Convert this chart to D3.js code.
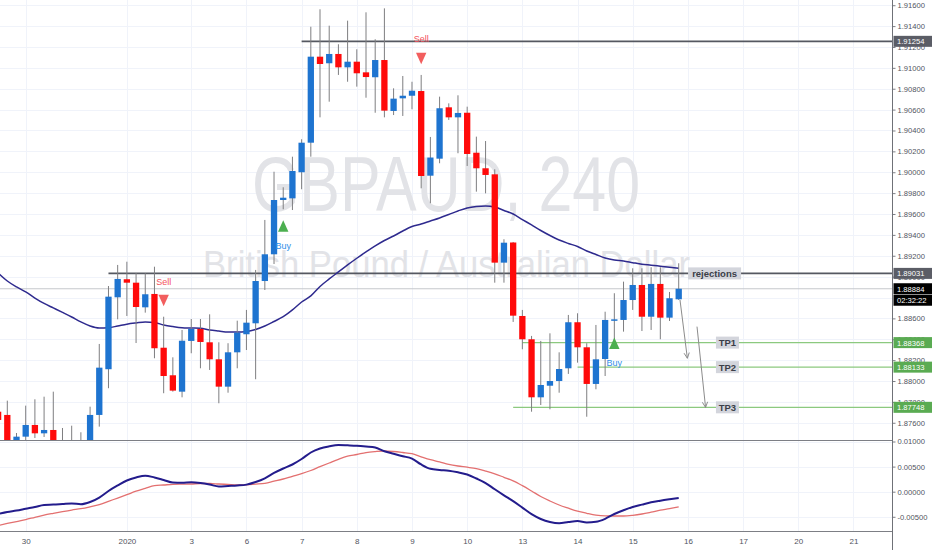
<!DOCTYPE html>
<html><head><meta charset="utf-8">
<script src="https://cdn.jsdelivr.net/npm/d3@7"></script>
<style>body{margin:0;background:#fff}svg{display:block;font-family:"Liberation Sans",Arial,sans-serif}</style>
</head><body>
<svg id="c" width="932" height="550"></svg>
<script>
// ---------- DATA ----------
const firstIndex = -1; // index of first (partially visible) candle
const opens  = [1.87706,1.87675,1.87387,1.87467,1.87579,1.87499,1.87531,1.87380,1.87300,1.87340,1.87410,1.87675,1.88113,1.88802,1.88975,1.88942,1.88706,1.88834,1.88319,1.88055,1.87898,1.88384,1.88499,1.88371,1.88208,1.87946,1.88275,1.88448,1.88553,1.88958,1.89214,1.89734,1.89750,1.90000,1.90283,1.91107,1.91044,1.91133,1.91005,1.91059,1.90957,1.90910,1.91075,1.90587,1.90708,1.90733,1.90778,1.89967,1.90130,1.90622,1.90526,1.90570,1.90187,1.90038,1.89980,1.89134,1.89327,1.88623,1.88400,1.87844,1.87955,1.88000,1.88122,1.88563,1.88323,1.87972,1.88211,1.88578,1.88585,1.88776,1.88920,1.88616,1.88930,1.88607,1.88783];
const highs  = [1.87770,1.87812,1.87502,1.87764,1.87825,1.87850,1.87898,1.87550,1.87572,1.87509,1.87754,1.88355,1.88910,1.89112,1.89143,1.89035,1.89032,1.89095,1.88616,1.88227,1.88489,1.88594,1.88594,1.88639,1.88371,1.88362,1.88578,1.88681,1.89064,1.89543,1.90005,1.89856,1.90149,1.90316,1.91394,1.91561,1.91404,1.91226,1.91452,1.91178,1.91532,1.91274,1.91570,1.90804,1.90922,1.90867,1.90932,1.90338,1.90724,1.90660,1.90737,1.90628,1.90341,1.90299,1.90028,1.89358,1.89332,1.88681,1.88432,1.88384,1.88457,1.88275,1.88633,1.88649,1.88362,1.88537,1.88664,1.88841,1.88952,1.89080,1.89080,1.89090,1.89090,1.88853,1.89128];
const lows   = [1.87579,1.87292,1.87340,1.87416,1.87454,1.87464,1.87340,1.87290,1.87260,1.87300,1.87380,1.87563,1.87931,1.88591,1.88623,1.88364,1.88655,1.88218,1.87883,1.87898,1.87844,1.88266,1.88122,1.88106,1.87787,1.87888,1.88122,1.88297,1.88017,1.88872,1.89121,1.89645,1.89638,1.89837,1.90149,1.90526,1.90676,1.90932,1.90867,1.90820,1.90714,1.90570,1.90526,1.90548,1.90539,1.90603,1.89846,1.89703,1.90086,1.90501,1.90182,1.90060,1.89814,1.89798,1.88942,1.88942,1.88566,1.88304,1.87706,1.87770,1.87729,1.87888,1.88068,1.88176,1.87658,1.87921,1.88048,1.88329,1.88473,1.88681,1.88479,1.88489,1.88400,1.88575,1.88776];
const closes = [1.87627,1.87359,1.87467,1.87579,1.87499,1.87531,1.87387,1.87330,1.87380,1.87400,1.87675,1.88128,1.88808,1.88978,1.88942,1.88709,1.88831,1.88314,1.88048,1.87908,1.88386,1.88499,1.88374,1.88208,1.87946,1.88275,1.88463,1.88559,1.88958,1.89214,1.89734,1.89756,1.90012,1.90283,1.91107,1.91037,1.91133,1.91005,1.91059,1.90948,1.90912,1.91075,1.90590,1.90705,1.90733,1.90781,1.89964,1.90141,1.90613,1.90526,1.90568,1.90175,1.90038,1.89974,1.89134,1.89325,1.88626,1.88400,1.87844,1.87962,1.88000,1.88115,1.88563,1.88323,1.87972,1.88208,1.88585,1.88591,1.88776,1.88920,1.88616,1.88930,1.88607,1.88793,1.88884];
const movingAvg = [1.89035,1.88958,1.88901,1.88853,1.88795,1.88743,1.88700,1.88657,1.88613,1.88566,1.88527,1.88508,1.88511,1.88527,1.88544,1.88556,1.88566,1.88561,1.88537,1.88522,1.88511,1.88508,1.88505,1.88489,1.88479,1.88470,1.88470,1.88475,1.88494,1.88527,1.88570,1.88616,1.88681,1.88757,1.88815,1.88906,1.88978,1.89045,1.89112,1.89176,1.89236,1.89294,1.89346,1.89389,1.89437,1.89480,1.89504,1.89533,1.89562,1.89595,1.89629,1.89658,1.89672,1.89677,1.89667,1.89634,1.89600,1.89547,1.89495,1.89442,1.89394,1.89351,1.89318,1.89289,1.89246,1.89212,1.89179,1.89160,1.89150,1.89134,1.89119,1.89110,1.89100,1.89090,1.89080];
const macdLine = [-0.00444,-0.00404,-0.00375,-0.00339,-0.00304,-0.00265,-0.00257,-0.00245,-0.00233,-0.00249,-0.00205,-0.00116,0.00014,0.00124,0.00223,0.00283,0.00319,0.00283,0.00233,0.00181,0.00177,0.00187,0.00173,0.00143,0.00104,0.00114,0.00124,0.00141,0.00193,0.00267,0.00373,0.00462,0.00542,0.00651,0.00781,0.00861,0.00904,0.00930,0.00924,0.00916,0.00900,0.00880,0.00805,0.00755,0.00707,0.00659,0.00542,0.00456,0.00432,0.00418,0.00386,0.00343,0.00263,0.00173,0.00048,-0.00072,-0.00189,-0.00317,-0.00448,-0.00544,-0.00604,-0.00629,-0.00604,-0.00584,-0.00612,-0.00600,-0.00540,-0.00444,-0.00369,-0.00305,-0.00257,-0.00211,-0.00179,-0.00151,-0.00125];
const signalLine = [-0.00673,-0.00633,-0.00594,-0.00556,-0.00510,-0.00466,-0.00430,-0.00396,-0.00365,-0.00339,-0.00301,-0.00257,-0.00191,-0.00127,-0.00060,0.00010,0.00066,0.00120,0.00133,0.00147,0.00151,0.00153,0.00163,0.00163,0.00153,0.00145,0.00137,0.00137,0.00151,0.00167,0.00209,0.00253,0.00307,0.00359,0.00422,0.00498,0.00572,0.00645,0.00707,0.00741,0.00779,0.00799,0.00811,0.00801,0.00781,0.00757,0.00695,0.00637,0.00592,0.00544,0.00512,0.00488,0.00460,0.00412,0.00357,0.00287,0.00215,0.00120,0.00014,-0.00096,-0.00185,-0.00265,-0.00329,-0.00388,-0.00430,-0.00466,-0.00482,-0.00484,-0.00484,-0.00470,-0.00444,-0.00408,-0.00369,-0.00337,-0.00301];

const priceTicks = [1.876,1.878,1.880,1.882,1.884,1.886,1.890,1.892,1.894,1.896,1.898,1.900,1.902,1.904,1.906,1.908,1.910,1.912,1.914,1.916];
const macdTicks = [-0.005,0,0.005,0.01];
const dayIndex  = [2,13,20,26,32,38,44,50,56,62,68,74,80,86,92];
const dayLabels = ["30","2020","3","6","7","8","9","10","13","14","15","16","17","20","21"];

const levelPrices = [1.91254, 1.89031];
const levelStart  = [32.0, 11.0];
const tpPrices = [1.88368, 1.88133, 1.87748];
const tpNames  = ["TP1","TP2","TP3"];
const tpStart  = [56.0, 62.0, 55.0];
const lastPrice = 1.88884;
const countdown = "02:32:22";
const signalIdx   = [17, 45, 30, 66];
const signalPrice = [1.88771, 1.91090, 1.89485, 1.88362];
const signalType  = ["Sell","Sell","Buy","Buy"];
const arrowFrom = [[73.14,1.88776],[74.99,1.88521]];
const arrowTo   = [[73.94,1.88218],[75.92,1.87747]];

// ---------- LAYOUT ----------
const PW = 892, MAIN_B = 440, LOW_B = 531;
const svg = d3.select('#c');
const x  = d3.scaleLinear().domain([-0.794, 96.19]).range([0, PW]);
const y  = d3.scaleLinear().domain([1.87435, 1.91650]).range([MAIN_B, 0]);
const ym = d3.scaleLinear().domain([-0.00783, 0.01030]).range([LOW_B, MAIN_B]);

const candles = opens.map((o,k)=>({i:firstIndex+k,o,h:highs[k],l:lows[k],c:closes[k],ma:movingAvg[k],m:macdLine[k],s:signalLine[k]}));

const defs = svg.append('defs');
defs.append('clipPath').attr('id','mainClip').append('rect').attr('x',0).attr('y',0).attr('width',PW).attr('height',MAIN_B);
defs.append('clipPath').attr('id','lowClip').append('rect').attr('x',0).attr('y',MAIN_B).attr('width',PW).attr('height',LOW_B-MAIN_B);

// grid
const grid = svg.append('g').attr('stroke','#f0f3fa').attr('stroke-width',1);
grid.selectAll('.hg').data(priceTicks.concat([1.888])).join('line')
  .attr('x1',0).attr('x2',PW).attr('y1',d=>Math.round(y(d))+0.5).attr('y2',d=>Math.round(y(d))+0.5);
grid.selectAll('.hm').data(macdTicks).join('line')
  .attr('x1',0).attr('x2',PW).attr('y1',d=>Math.round(ym(d))+0.5).attr('y2',d=>Math.round(ym(d))+0.5);
grid.selectAll('.vg').data(dayIndex).join('line')
  .attr('y1',0).attr('y2',LOW_B).attr('x1',d=>Math.round(x(d))+0.5).attr('x2',d=>Math.round(x(d))+0.5);

// main pane
const main = svg.append('g').attr('clip-path','url(#mainClip)');
main.append('text').attr('x',252).attr('y',211).attr('font-size',78).attr('fill','#e2e3e7')
  .attr('textLength',388).attr('lengthAdjust','spacingAndGlyphs').text('GBPAUD, 240');
main.append('text').attr('x',203).attr('y',277).attr('font-size',37).attr('fill','#e2e3e7')
  .attr('textLength',487).attr('lengthAdjust','spacingAndGlyphs').text('British Pound / Australian Dollar');

// current price line
main.append('line').attr('x1',0).attr('x2',PW).attr('y1',y(lastPrice)).attr('y2',y(lastPrice))
  .attr('stroke','#c6c8cc').attr('stroke-width',1.2);

// levels
main.selectAll('.lvl').data(levelPrices).join('line')
  .attr('x1',(d,k)=>x(levelStart[k])).attr('x2',PW).attr('y1',d=>y(d)).attr('y2',d=>y(d))
  .attr('stroke','#555861').attr('stroke-width',1.6);
main.selectAll('.tp').data(tpPrices).join('line')
  .attr('x1',(d,k)=>x(tpStart[k])).attr('x2',PW).attr('y1',d=>y(d)).attr('y2',d=>y(d))
  .attr('stroke','#8cc97f').attr('stroke-width',1.2);

// MA
main.append('path').datum(candles).attr('fill','none').attr('stroke','#2e2a8e').attr('stroke-width',1.5)
  .attr('d',d3.line().x(d=>x(d.i)).y(d=>y(d.ma)).curve(d3.curveMonotoneX));

// candles
const bw = 6.3;
const cg = main.append('g');
cg.selectAll('.w').data(candles).join('line')
  .attr('x1',d=>x(d.i)).attr('x2',d=>x(d.i)).attr('y1',d=>y(d.h)).attr('y2',d=>y(d.l))
  .attr('stroke','#7e7e80').attr('stroke-width',1);
cg.selectAll('.b').data(candles).join('rect')
  .attr('x',d=>x(d.i)-bw/2).attr('width',bw)
  .attr('y',d=>y(Math.max(d.o,d.c))).attr('height',d=>Math.max(1.5,Math.abs(y(d.o)-y(d.c))))
  .attr('fill',d=>d.c>=d.o?'#1e74d0':'#ff0a0a');

// signals
signalIdx.forEach((si,k)=>{
  const cx = x(si), cy = y(signalPrice[k]);
  const sell = signalType[k]==='Sell';
  const hw=5.2, hh=5.8;
  const pts = sell ? [[cx-hw,cy-hh],[cx+hw,cy-hh],[cx,cy+hh]] : [[cx-hw,cy+hh],[cx+hw,cy+hh],[cx,cy-hh]];
  main.append('path').attr('d','M'+pts.map(p=>p.join(',')).join('L')+'Z').attr('fill',sell?'#f25e5e':'#4caf50');
  main.append('text').attr('x',cx).attr('y',sell?cy-16:cy+23).attr('text-anchor','middle')
    .attr('font-size',9).attr('fill',sell?'#f4525c':'#2f8ee8').text(signalType[k]);
});

// arrows
arrowFrom.forEach((f,k)=>{
  const x1=x(f[0]),y1=y(f[1]),x2=x(arrowTo[k][0]),y2=y(arrowTo[k][1]);
  const a=Math.atan2(y2-y1,x2-x1), L=6, sp=0.45;
  const g=main.append('g').attr('stroke','#8c8c8c').attr('stroke-width',1).attr('fill','none');
  g.append('line').attr('x1',x1).attr('y1',y1).attr('x2',x2).attr('y2',y2);
  g.append('path').attr('d',`M${x2-L*Math.cos(a-sp)},${y2-L*Math.sin(a-sp)}L${x2},${y2}L${x2-L*Math.cos(a+sp)},${y2-L*Math.sin(a+sp)}`);
});

// text labels on lines
function tagOnChart(cxIdx, price, txt, w){
  const cx=x(cxIdx), cy=y(price);
  main.append('rect').attr('x',cx-w/2).attr('y',cy-6).attr('width',w).attr('height',12).attr('fill','#d3d5dc');
  main.append('text').attr('x',cx).attr('y',cy+3.4).attr('text-anchor','middle').attr('font-size',9.5)
    .attr('font-weight','bold').attr('fill','#3b3e48').text(txt);
}
tagOnChart(76.9, levelPrices[1], 'rejections', 53);
tpPrices.forEach((p,k)=>tagOnChart(78.3, p, tpNames[k], 23));

// lower pane
const low = svg.append('g').attr('clip-path','url(#lowClip)');
low.append('path').datum(candles).attr('fill','none').attr('stroke','#e37070').attr('stroke-width',1.3)
  .attr('d',d3.line().x(d=>x(d.i)).y(d=>ym(d.s)).curve(d3.curveMonotoneX));
low.append('path').datum(candles).attr('fill','none').attr('stroke','#231c8c').attr('stroke-width',2)
  .attr('d',d3.line().x(d=>x(d.i)).y(d=>ym(d.m)).curve(d3.curveMonotoneX));

// separators / frame
svg.append('line').attr('x1',0).attr('x2',PW).attr('y1',MAIN_B+0.5).attr('y2',MAIN_B+0.5).attr('stroke','#7d7f85');
svg.append('line').attr('x1',0).attr('x2',PW).attr('y1',LOW_B+0.5).attr('y2',LOW_B+0.5).attr('stroke','#7d7f85');

// axes
const axY = svg.append('g').attr('transform',`translate(${PW+0.5},0)`)
  .call(d3.axisRight(y).tickValues(priceTicks).tickFormat(d3.format('.5f')).tickSize(3).tickPadding(2));
const axM = svg.append('g').attr('transform',`translate(${PW+0.5},0)`)
  .call(d3.axisRight(ym).tickValues(macdTicks).tickFormat(d=>d3.format('.5f')(d).replace('−','-')).tickSize(3).tickPadding(2));
const axX = svg.append('g').attr('transform',`translate(0,${LOW_B})`)
  .call(d3.axisBottom(x).tickValues(dayIndex).tickFormat((d,k)=>dayLabels[k]).tickSize(0).tickPadding(7));
[axY,axM,axX].forEach(a=>{
  a.selectAll('path.domain').remove();
  a.selectAll('text').attr('font-size',7.6).attr('fill','#50535e').attr('font-family','"Liberation Sans",Arial,sans-serif');
  a.selectAll('line').attr('stroke','#7d7f85');
});
axX.selectAll('text').attr('font-size',8);
svg.append('line').attr('x1',PW+0.5).attr('x2',PW+0.5).attr('y1',0).attr('y2',550).attr('stroke','#6f7177');

// axis tags
function axisTag(yy, txt, bg){
  svg.append('rect').attr('x',PW+1.5).attr('y',yy-5.5).attr('width',932-PW-1.5).attr('height',11).attr('fill',bg);
  svg.append('text').attr('x',PW+5).attr('y',yy+3).attr('font-size',7.6).attr('fill','#fff').text(txt);
}
axisTag(y(levelPrices[0]), d3.format('.5f')(levelPrices[0]), '#5b5d66');
axisTag(y(levelPrices[1]), d3.format('.5f')(levelPrices[1]), '#5b5d66');
axisTag(y(lastPrice), d3.format('.5f')(lastPrice), '#000');
axisTag(y(lastPrice)+11.5, countdown, '#000');
tpPrices.forEach(p=>axisTag(y(p), d3.format('.5f')(p), '#5aab52'));
</script>
</body></html>
